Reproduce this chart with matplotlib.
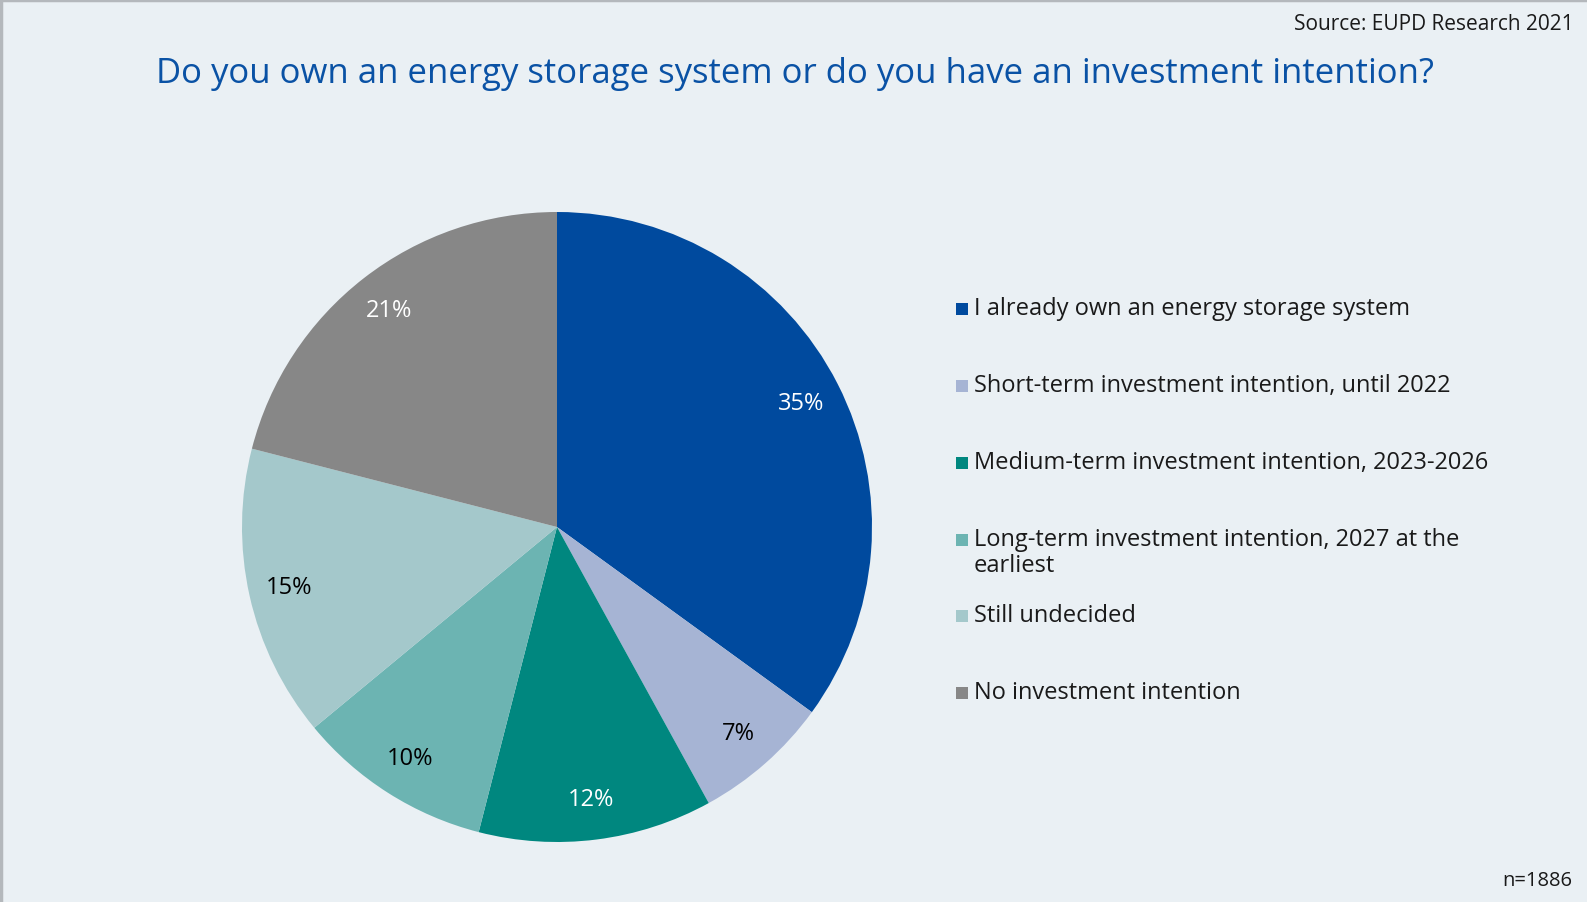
import matplotlib.pyplot as plt
from matplotlib.patches import Rectangle
from matplotlib.lines import Line2D

plt.rcParams['font.family'] = ['Open Sans', 'DejaVu Sans']

categories = [
    "I already own an energy storage system",
    "Short-term investment intention, until 2022",
    "Medium-term investment intention, 2023-2026",
    "Long-term investment intention, 2027 at the\nearliest",
    "Still undecided",
    "No investment intention",
]
shares = [35, 7, 12, 10, 15, 21]
colors = ["#004a9e", "#a6b4d4", "#00877f", "#6cb4b2", "#a4c8cb", "#878787"]
label_colors = ["white", "black", "white", "black", "black", "white"]

W, H = 1587, 903
bg = "#eaf0f4"
fig = plt.figure(figsize=(W / 100, H / 100), dpi=100, facecolor=bg)

# frame lines on top and left edge
fig.add_artist(Line2D([0, 1], [0.999, 0.999], transform=fig.transFigure, color="#b4b8bc", lw=2.5))
fig.add_artist(Line2D([0.0008, 0.0008], [0, 1], transform=fig.transFigure, color="#b4b8bc", lw=2.5))

# pie axes, centre (557, 528) px, radius 315 px
cx, cy, r = 557, 528, 315
ax = fig.add_axes([(cx - r) / W, (H - cy - r) / H, 2 * r / W, 2 * r / H])
ax.set_facecolor(bg)
wedges, texts, autotexts = ax.pie(
    shares, colors=colors, startangle=90, counterclock=False,
    autopct="%d%%", pctdistance=0.87, radius=1,
    wedgeprops=dict(linewidth=0),
    textprops=dict(fontsize=17),
)
for t, c in zip(autotexts, label_colors):
    t.set_color(c)
ax.set_xlim(-1, 1)
ax.set_ylim(-1, 1)
ax.set_aspect("equal")
ax.axis("off")

fig.text(795 / W, 1 - 74 / H, "Do you own an energy storage system or do you have an investment intention?",
         ha="center", va="center", fontsize=25, color="#0a52a5")
fig.text(1574 / W, 1 - 25 / H, "Source: EUPD Research 2021", ha="right", va="center", fontsize=15, color="#1a1a1a")
fig.text(1572 / W, 1 - 881 / H, "n=1886", ha="right", va="center", fontsize=14.5, color="#1a1a1a")

# legend rows
row_y = [310, 387, 464, 541, 617, 694]
for lab, col, y in zip(categories, colors, row_y):
    fig.add_artist(Rectangle((956 / W, 1 - (y + 6) / H), 12 / W, 12 / H,
                             transform=fig.transFigure, facecolor=col, edgecolor="none"))
    fig.text(974 / W, 1 - (y - 13) / H, lab, ha="left", va="top", fontsize=17,
             color="#1a1a1a", linespacing=1.1)

fig.savefig("out.png", dpi=100, facecolor=bg)
